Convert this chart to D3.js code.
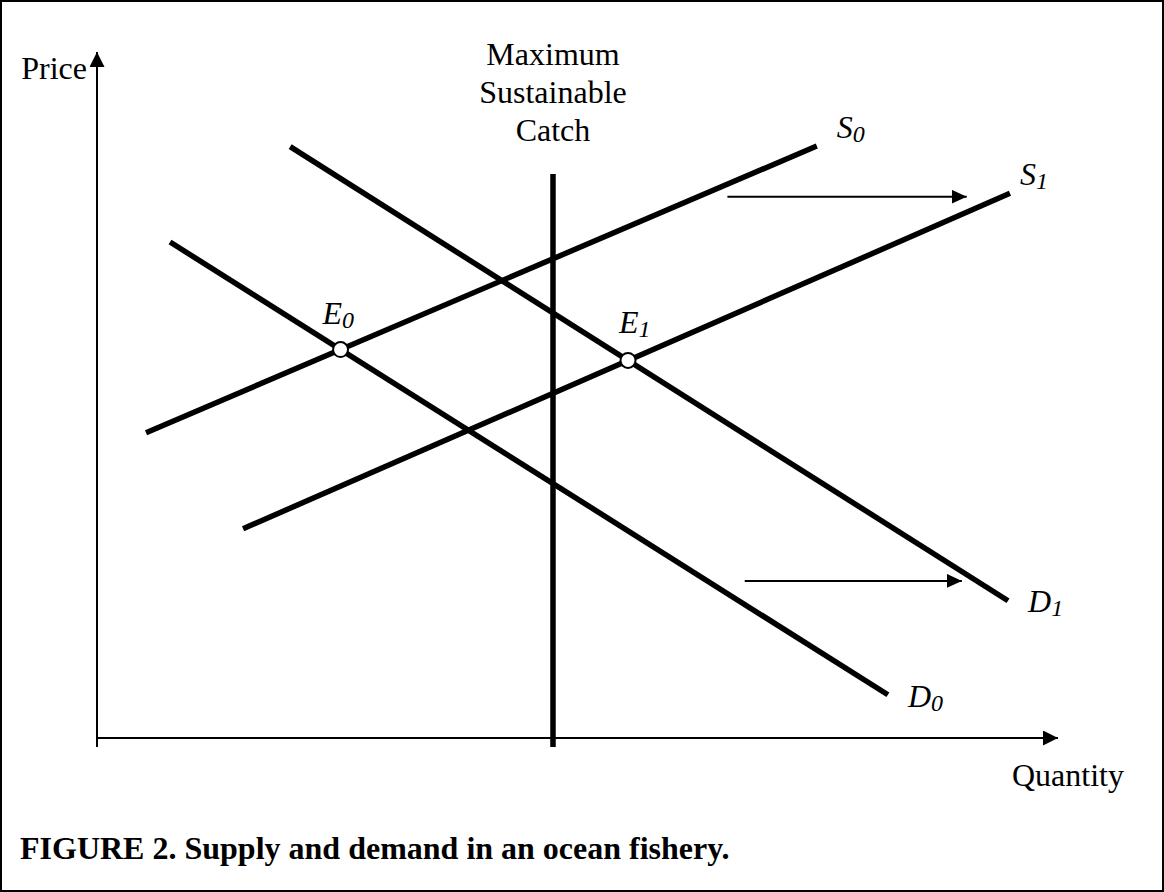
<!DOCTYPE html>
<html>
<head>
<meta charset="utf-8">
<script src="https://cdn.jsdelivr.net/npm/d3@7"></script>
<style>
  body { margin: 0; background: #fff; }
  svg text { font-family: "Liberation Serif", "Times New Roman", serif; fill: #000; }
</style>
</head>
<body>
<div id="chart"></div>
<script>
// curve endpoints in (quantity, price) units
const curveNames = ["S0", "S1", "D0", "D1"];
const curveQ = [[0.51, 7.49], [1.52, 9.50], [0.76, 8.23], [2.01, 9.48]];
const curveP = [[4.45, 8.63], [3.05, 7.94], [7.23, 0.63], [8.62, 2.00]];
// equilibrium = [label, supply index, demand index]
const equilibria = [["E0", 0, 2], ["E1", 1, 3]];
// maximum sustainable catch
const mscQ = 4.745;
const mscP = [-0.13, 8.22];
const mscLabel = ["Maximum", "Sustainable", "Catch"];
// shift arrows
const shiftP = [7.89, 2.29];
const shiftQ = [[6.56, 9.05], [6.74, 9.00]];

const width = 1164, height = 892;
const x = d3.scaleLinear().domain([0, 10]).range([97, 1058]);
const y = d3.scaleLinear().domain([0, 10]).range([738, 52]);

const svg = d3.select("#chart").append("svg")
  .attr("width", width).attr("height", height);

const defs = svg.append("defs");
function marker(id, len, wid) {
  defs.append("marker").attr("id", id)
    .attr("markerUnits", "userSpaceOnUse")
    .attr("viewBox", `0 0 ${len} ${wid}`)
    .attr("refX", len).attr("refY", wid / 2)
    .attr("markerWidth", len).attr("markerHeight", wid)
    .attr("orient", "auto")
    .append("path").attr("d", `M0,0L${len},${wid / 2}L0,${wid}Z`).attr("fill", "#000");
}
marker("head", 15, 15);
marker("headSmall", 15, 14);

// frame
svg.append("rect").attr("x", 1).attr("y", 1)
  .attr("width", width - 2).attr("height", height - 2)
  .attr("fill", "none").attr("stroke", "#000").attr("stroke-width", 2);

// axes
svg.append("line")
  .attr("x1", x(0)).attr("y1", y(-0.13)).attr("x2", x(0)).attr("y2", y(10))
  .attr("stroke", "#000").attr("stroke-width", 2).attr("marker-end", "url(#head)");
svg.append("line")
  .attr("x1", x(0)).attr("y1", y(0)).attr("x2", x(10)).attr("y2", y(0))
  .attr("stroke", "#000").attr("stroke-width", 2).attr("marker-end", "url(#head)");

svg.append("text").attr("x", 87).attr("y", 79)
  .attr("text-anchor", "end").attr("font-size", 32).text("Price");
svg.append("text").attr("x", 1012).attr("y", 786)
  .attr("font-size", 32).text("Quantity");

// maximum sustainable catch
svg.append("line")
  .attr("x1", x(mscQ)).attr("x2", x(mscQ))
  .attr("y1", y(mscP[0])).attr("y2", y(mscP[1]))
  .attr("stroke", "#000").attr("stroke-width", 5.5);
svg.append("g").selectAll("text").data(mscLabel).join("text")
  .attr("x", x(mscQ)).attr("y", (d, i) => 65 + i * 38)
  .attr("text-anchor", "middle").attr("font-size", 32).text(d => d);

// shift arrows
svg.append("g").selectAll("line").data(shiftP).join("line")
  .attr("x1", (d, i) => x(shiftQ[i][0])).attr("x2", (d, i) => x(shiftQ[i][1]))
  .attr("y1", d => y(d)).attr("y2", d => y(d))
  .attr("stroke", "#000").attr("stroke-width", 2)
  .attr("marker-end", "url(#headSmall)");

// supply and demand curves
const line = d3.line().x(d => x(d[0])).y(d => y(d[1]));
const curves = curveNames.map((n, i) => ({
  name: n,
  pts: [[curveQ[i][0], curveP[i][0]], [curveQ[i][1], curveP[i][1]]]
}));
svg.append("g").selectAll("path").data(curves).join("path")
  .attr("d", d => line(d.pts))
  .attr("fill", "none").attr("stroke", "#000").attr("stroke-width", 5.5);

// curve labels (offsets from line end, px)
const labelOffset = { S0: [20, -8], S1: [10, -8], D0: [20, 12], D1: [20, 11] };
function subLabel(sel, name) {
  sel.append("tspan").attr("font-size", 32).text(name[0]);
  sel.append("tspan").attr("font-size", 24).attr("dy", 4).text(name.slice(1));
}
curves.forEach(c => {
  const end = c.pts[1];
  const t = svg.append("text")
    .attr("x", x(end[0]) + labelOffset[c.name][0])
    .attr("y", y(end[1]) + labelOffset[c.name][1])
    .attr("font-style", "italic");
  subLabel(t, c.name);
});

// equilibria: intersection of supply and demand lines
function intersect(a, b) {
  const [a0, a1] = a.pts, [b0, b1] = b.pts;
  const ma = (a1[1] - a0[1]) / (a1[0] - a0[0]);
  const mb = (b1[1] - b0[1]) / (b1[0] - b0[0]);
  const q = (b0[1] - a0[1] + ma * a0[0] - mb * b0[0]) / (ma - mb);
  return [q, a0[1] + ma * (q - a0[0])];
}
const eqLabelOffset = { E0: [-18, -26], E1: [-9, -27] };
equilibria.forEach(([name, si, di]) => {
  const pt = intersect(curves[si], curves[di]);
  svg.append("circle").attr("cx", x(pt[0])).attr("cy", y(pt[1])).attr("r", 7.5)
    .attr("fill", "#fff").attr("stroke", "#000").attr("stroke-width", 2);
  const t = svg.append("text")
    .attr("x", x(pt[0]) + eqLabelOffset[name][0])
    .attr("y", y(pt[1]) + eqLabelOffset[name][1])
    .attr("font-style", "italic");
  subLabel(t, name);
});

// caption
svg.append("text").attr("x", 20).attr("y", 859)
  .attr("font-size", 32).attr("font-weight", "bold")
  .text("FIGURE 2. Supply and demand in an ocean fishery.");
</script>
</body>
</html>
